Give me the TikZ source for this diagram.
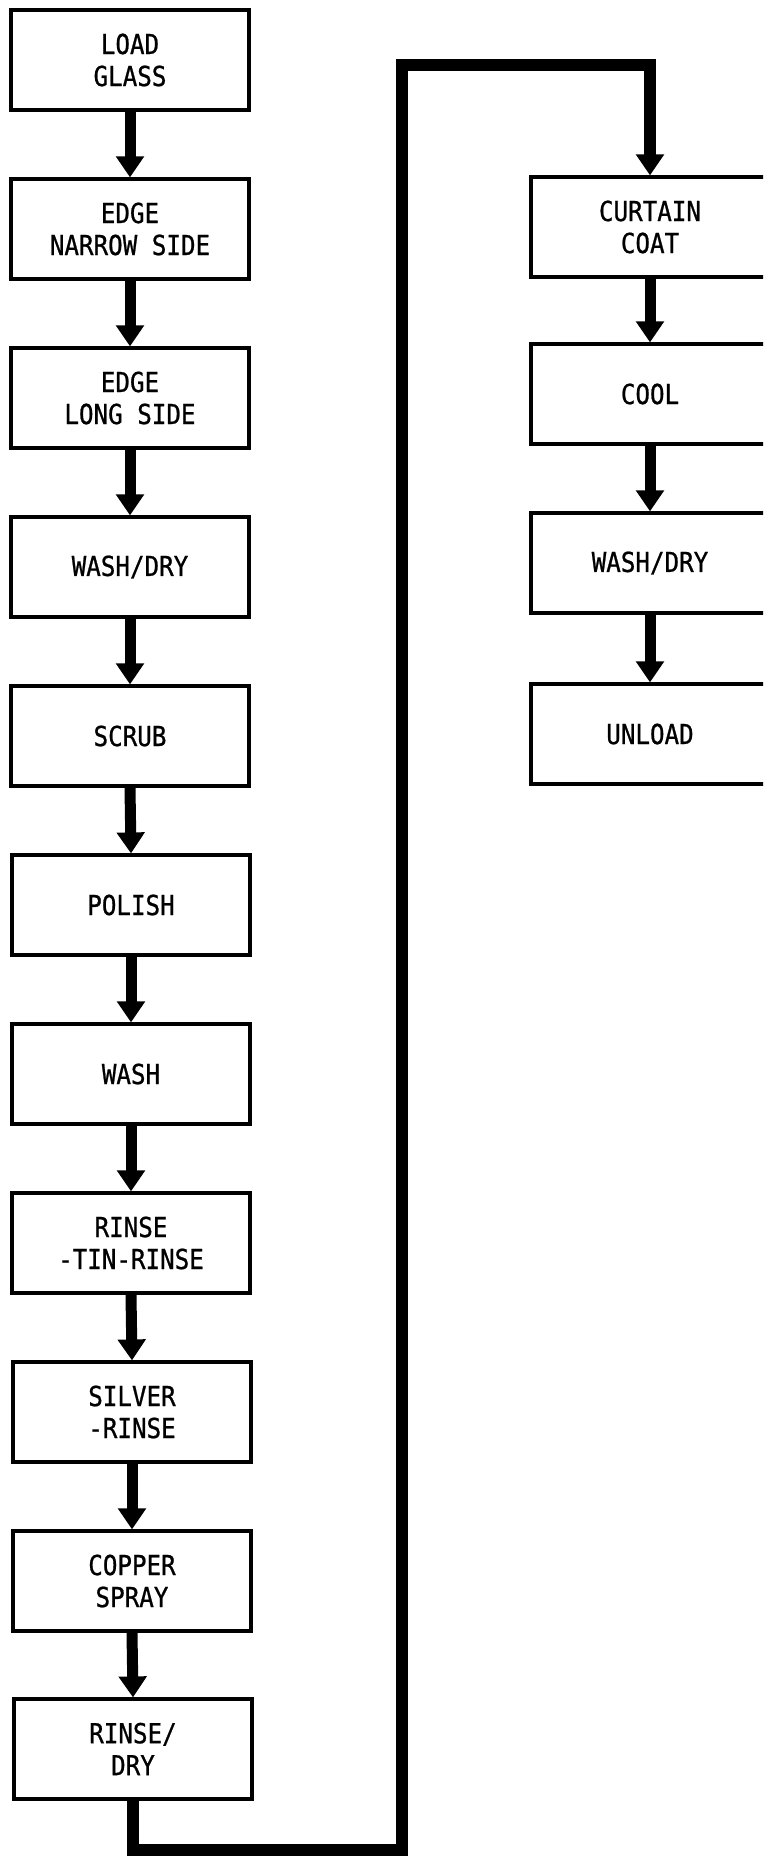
\documentclass[tikz,border=0pt]{standalone}
\usepackage{fontspec}
\newfontfamily\boxfont[FakeStretch=0.88,FakeBold=0.8]{DejaVu Sans Mono}
\usetikzlibrary{arrows.meta}
\tikzset{
  procbox/.style={draw=black, line width=3.2pt, fill=white, minimum width=238pt, minimum height=100pt,
    inner sep=0pt, align=center, font=\fontsize{27.5}{32}\selectfont\boxfont},
  flow/.style={line width=11pt, -{Triangle[width=27pt,length=21pt]}},
  flowloop/.style={line width=11.5pt, -{Triangle[width=27pt,length=21pt]}}
}
\begin{document}
\begin{tikzpicture}[x=1pt,y=-1pt]
\useasboundingbox (0,0) rectangle (763,1857);
\clip (0,0) rectangle (763,1857);
% left column
\node[procbox] (n0) at (130,60) {LOAD\\GLASS};
\node[procbox] (n1) at (130,229) {EDGE\\NARROW SIDE};
\node[procbox] (n2) at (130,398) {EDGE\\LONG SIDE};
\node[procbox] (n3) at (130,567) {WASH/DRY};
\node[procbox] (n4) at (130,736) {SCRUB};
\node[procbox] (n5) at (131,905) {POLISH};
\node[procbox] (n6) at (131,1074) {WASH};
\node[procbox] (n7) at (131,1243) {RINSE\\-TIN-RINSE};
\node[procbox] (n8) at (132,1412) {SILVER\\-RINSE};
\node[procbox] (n9) at (132,1581) {COPPER\\SPRAY};
\node[procbox] (n10) at (133,1749) {RINSE/\\DRY};
% right column
\node[procbox] (r0) at (650,227) {CURTAIN\\COAT};
\node[procbox] (r1) at (650,394) {COOL};
\node[procbox] (r2) at (650,563) {WASH/DRY};
\node[procbox] (r3) at (650,734) {UNLOAD};
% arrows
\foreach \a/\b in {n0/n1,n1/n2,n2/n3,n3/n4,n4/n5,n5/n6,n6/n7,n7/n8,n8/n9,n9/n10,r0/r1,r1/r2,r2/r3}
  \draw[flow] (\a.south) -- (\b.north);
% loop connector
\coordinate (lb) at (402,1850);
\coordinate (lt) at (402,65);
\draw[flowloop] (n10.south) |- (lb) -- (lt) -| (r0.north);
\end{tikzpicture}
\end{document}
